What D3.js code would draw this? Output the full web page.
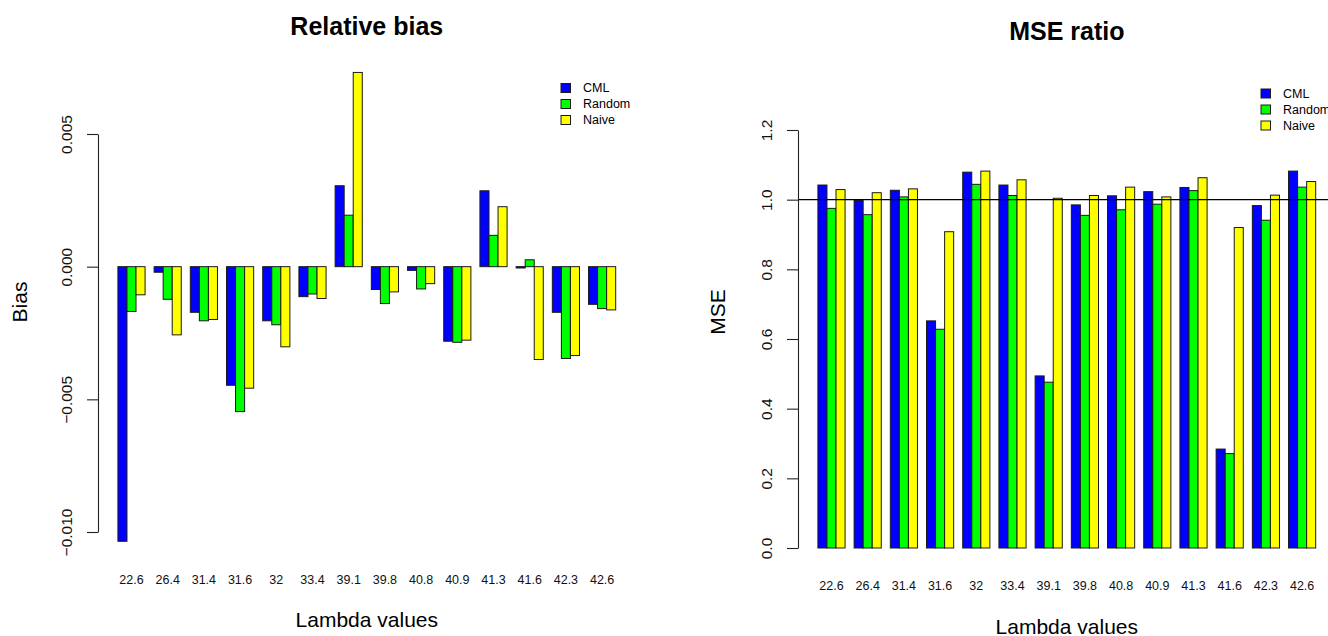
<!DOCTYPE html>
<html>
<head>
<meta charset="utf-8">
<script src="https://cdn.jsdelivr.net/npm/d3@7"></script>
<style>
  html, body { margin: 0; padding: 0; background: #fff; }
  svg { display: block; font-family: "Liberation Sans", Arial, Helvetica, sans-serif; }
</style>
</head>
<body>
<script>
// lambda values (x categories), shared by both panels
const lambdas = ["22.6", "26.4", "31.4", "31.6", "32", "33.4", "39.1", "39.8", "40.8", "40.9", "41.3", "41.6", "42.3", "42.6"];
const seriesNames = ["CML", "Random", "Naive"];
const seriesColors = ["#0000ff", "#00ff00", "#ffff00"];

// relative bias, one array per method
const biasCML    = [-0.01035, -0.00021, -0.00172, -0.00447, -0.00204, -0.00113, 0.00305, -0.00086, -0.00014, -0.00281, 0.00286, -0.00005, -0.00172, -0.00142];
const biasRandom = [-0.00169, -0.00123, -0.00204, -0.00546, -0.00219, -0.00103, 0.00194, -0.00139, -0.00084, -0.00285, 0.00118, 0.00026, -0.00346, -0.00158];
const biasNaive  = [-0.00106, -0.00257, -0.00199, -0.00458, -0.00302, -0.00120, 0.00732, -0.00095, -0.00064, -0.00277, 0.00226, -0.00350, -0.00335, -0.00163];
const biasTicks  = [-0.010, -0.005, 0.000, 0.005];

// MSE ratio, one array per method
const mseCML    = [1.042, 0.998, 1.027, 0.652, 1.079, 1.042, 0.494, 0.985, 1.011, 1.023, 1.035, 0.284, 0.983, 1.082];
const mseRandom = [0.975, 0.957, 1.008, 0.628, 1.044, 1.012, 0.476, 0.955, 0.971, 0.987, 1.026, 0.271, 0.941, 1.036];
const mseNaive  = [1.029, 1.020, 1.031, 0.908, 1.082, 1.057, 1.004, 1.012, 1.036, 1.008, 1.063, 0.920, 1.013, 1.052];
const mseTicks  = [0, 0.2, 0.4, 0.6, 0.8, 1.0, 1.2];

const svg = d3.create("svg")
    .attr("width", 1328)
    .attr("height", 636)
    .attr("viewBox", [0, 0, 1328, 636]);

function drawPanel({
    values,        // array of series arrays, same order as seriesNames
    yDomain,       // [min, max] of the axis ticks
    yRange,        // pixel range for yDomain, [bottom, top]
    xRange,        // pixel extent of the plot region
    ticks,
    tickFormat,
    title, titleY,
    yLabel, yLabelX, yLabelY,
    xLabelY,       // baseline of the lambda tick labels
    xTitleY,       // baseline of "Lambda values"
    legendX, legendY,
    refLine        // optional horizontal reference line
}) {
    const g = svg.append("g");

    // R barplot layout: 3 bars per group, one bar of space between groups
    const x = d3.scaleBand(lambdas, xRange).paddingInner(0.25).paddingOuter(0.55);
    const xs = d3.scaleBand(seriesNames, [0, x.bandwidth()]);
    const y = d3.scaleLinear(yDomain, yRange);

    const rows = lambdas.map((lab, i) => seriesNames.map((s, j) => ({lab, s, j, v: values[j][i]})));

    g.append("g")
      .selectAll("g")
      .data(rows)
      .join("g")
        .attr("transform", d => `translate(${x(d[0].lab)},0)`)
      .selectAll("rect")
      .data(d => d)
      .join("rect")
        .attr("x", d => xs(d.s))
        .attr("width", xs.bandwidth())
        .attr("y", d => Math.min(y(0), y(d.v)))
        .attr("height", d => Math.max(0.5, Math.abs(y(d.v) - y(0))))
        .attr("fill", d => seriesColors[d.j])
        .attr("stroke", "#1a1a1a")
        .attr("stroke-width", 1);

    if (refLine != null) {
        g.append("line")
            .attr("x1", xRange[0]).attr("x2", xRange[1])
            .attr("y1", y(refLine)).attr("y2", y(refLine))
            .attr("stroke", "#000")
            .attr("stroke-width", 1.3);
    }

    // y axis, labels parallel to the axis like R's las=0
    const yAxis = g.append("g")
        .attr("transform", `translate(${xRange[0]},0)`)
        .call(d3.axisLeft(y).tickValues(ticks).tickFormat(tickFormat).tickSize(11).tickSizeOuter(0));
    yAxis.select(".domain").attr("stroke", "#222").attr("stroke-width", 1.1);
    yAxis.selectAll(".tick line").attr("stroke", "#222").attr("stroke-width", 1.1);
    yAxis.selectAll(".tick text")
        .attr("x", null).attr("dy", null)
        .attr("text-anchor", "middle")
        .attr("transform", "translate(-26,0) rotate(-90)")
        .attr("fill", "#111")
        .style("font-size", "15.5px")
        .style("font-family", null);

    // lambda names under each group, no axis line
    const xAxis = g.append("g")
        .attr("transform", `translate(0,${xLabelY})`)
        .call(d3.axisBottom(x).tickSize(0));
    xAxis.select(".domain").remove();
    xAxis.selectAll(".tick text")
        .attr("y", 0).attr("dy", null)
        .attr("fill", "#111")
        .style("font-size", "12.5px")
        .style("font-family", null);

    const cx = (xRange[0] + xRange[1]) / 2;

    g.append("text")
        .attr("x", cx).attr("y", titleY)
        .attr("text-anchor", "middle")
        .style("font-size", "25px")
        .style("font-weight", "bold")
        .text(title);

    g.append("text")
        .attr("x", cx).attr("y", xTitleY)
        .attr("text-anchor", "middle")
        .style("font-size", "21px")
        .text("Lambda values");

    g.append("text")
        .attr("transform", `translate(${yLabelX},${yLabelY}) rotate(-90)`)
        .attr("text-anchor", "middle")
        .style("font-size", "21px")
        .text(yLabel);

    // legend
    const legend = g.append("g")
        .attr("transform", `translate(${legendX},${legendY})`);

    const item = legend.selectAll("g")
        .data(seriesNames)
        .join("g")
        .attr("transform", (d, i) => `translate(0,${i * 16})`);

    item.append("rect")
        .attr("x", 0).attr("y", -4.5)
        .attr("width", 9.5).attr("height", 9)
        .attr("fill", (d, i) => seriesColors[i])
        .attr("stroke", "#1a1a1a")
        .attr("stroke-width", 1);

    item.append("text")
        .attr("x", 22).attr("y", 0)
        .attr("dy", "0.35em")
        .style("font-size", "12.5px")
        .text(d => d);
}

drawPanel({
    values: [biasCML, biasRandom, biasNaive],
    yDomain: [-0.010, 0.005],
    yRange: [532, 134],
    xRange: [98, 635.6],
    ticks: biasTicks,
    tickFormat: d3.format(".3f"),
    title: "Relative bias", titleY: 35,
    yLabel: "Bias", yLabelX: 27, yLabelY: 302,
    xLabelY: 584,
    xTitleY: 627,
    legendX: 561, legendY: 88
});

drawPanel({
    values: [mseCML, mseRandom, mseNaive],
    yDomain: [0, 1.2],
    yRange: [548, 130],
    xRange: [798, 1335.6],
    ticks: mseTicks,
    tickFormat: d3.format(".1f"),
    title: "MSE ratio", titleY: 40,
    yLabel: "MSE", yLabelX: 725, yLabelY: 312,
    xLabelY: 590,
    xTitleY: 633.5,
    legendX: 1261, legendY: 93.5,
    refLine: 1
});

document.body.appendChild(svg.node());
</script>
</body>
</html>
